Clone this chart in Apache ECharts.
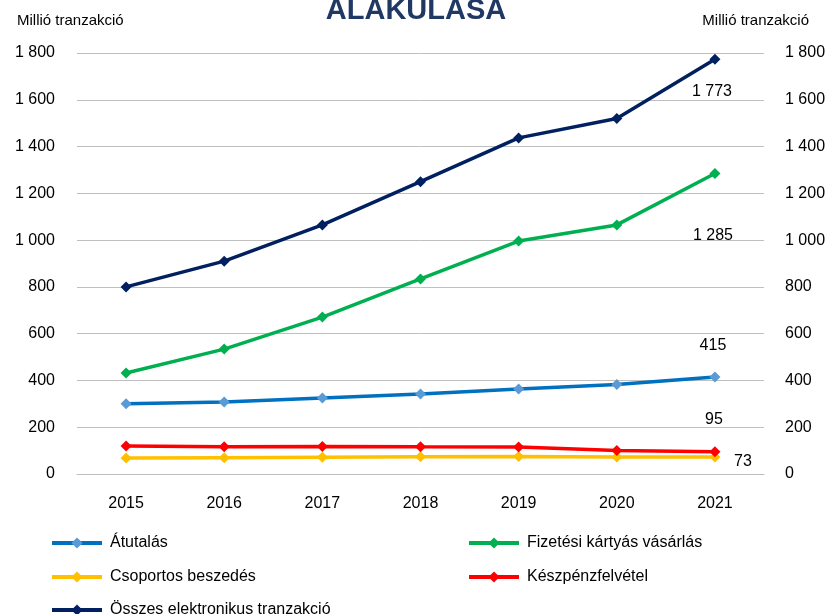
<!DOCTYPE html>
<html>
<head>
<meta charset="utf-8">
<script src="https://cdn.jsdelivr.net/npm/echarts@6/dist/echarts.min.js"></script>
<style>
    html, body { margin: 0; padding: 0; background: #fff; }
    #container { width: 832px; height: 614px; }
</style>
</head>
<body>
<div id="container"></div>
<script>
// adatok
var years = ['2015', '2016', '2017', '2018', '2019', '2020', '2021'];
var atutalas = [300, 308, 325, 342, 363, 383, 415];
var kartyas = [432, 534, 671, 834, 996, 1065, 1285];
var csoportos = [68, 70, 72, 74, 75, 73, 73];
var keszpenz = [120, 117, 118, 116, 115, 100, 95];
var osszes = [800, 910, 1065, 1250, 1437, 1520, 1773];

var seriesNames = ['Átutalás', 'Fizetési kártyás vásárlás', 'Csoportos beszedés', 'Készpénzfelvétel', 'Összes elektronikus tranzakció'];

var font = 'Liberation Sans';

function fmt(v) {
    return String(v).replace(/\B(?=(\d{3})+(?!\d))/g, ' ');
}

// csak az utolsó pont kap címkét
function withLastLabel(arr, offset) {
    return arr.map(function (v, i) {
        if (i !== arr.length - 1) return v;
        return {
            value: v,
            label: {
                show: true, position: 'inside', offset: offset,
                formatter: function (p) { return fmt(p.value); },
                color: '#000', fontSize: 16, fontFamily: font
            }
        };
    });
}

function lineSeries(name, data, color, markerColor, offset) {
    return {
        name: name,
        type: 'line',
        data: withLastLabel(data, offset),
        symbol: 'diamond',
        symbolSize: 11,
        lineStyle: { color: color, width: 3.5 },
        itemStyle: { color: markerColor || color },
        emphasis: { disabled: true }
    };
}

// egy jelmagyarázat-elem a megadott helyen
function legendItem(name, left, top) {
    return {
        left: left, top: top, padding: 0, itemWidth: 50, itemHeight: 14, itemGap: 0,
        data: [name],
        lineStyle: { width: 4 },
        textStyle: { fontSize: 16, color: '#000', fontFamily: font, padding: [0, 0, 0, 3] }
    };
}

var myChart = echarts.init(document.getElementById('container'));
var options = {
    animation: false,
    textStyle: { fontFamily: font },
    title: [
        { text: 'ALAKULÁSA', left: 'center', top: -9,
          textStyle: { color: '#1F3864', fontSize: 29, fontWeight: 'bold', fontFamily: font } },
        { text: 'Millió tranzakció', left: 12, top: 8,
          textStyle: { color: '#000', fontSize: 15, fontWeight: 'normal', fontFamily: font } },
        { text: 'Millió tranzakció', right: 18, top: 8,
          textStyle: { color: '#000', fontSize: 15, fontWeight: 'normal', fontFamily: font } }
    ],
    grid: { left: 77, right: 68, top: 53, bottom: 140 },
    legend: [
        legendItem(seriesNames[0], 50, 535),
        legendItem(seriesNames[1], 467, 535),
        legendItem(seriesNames[2], 50, 569),
        legendItem(seriesNames[3], 467, 569),
        legendItem(seriesNames[4], 50, 602)
    ],
    xAxis: {
        type: 'category',
        data: years,
        boundaryGap: true,
        axisLine: { lineStyle: { color: '#BFBFBF' } },
        axisTick: { show: false },
        axisLabel: { color: '#000', fontSize: 16, margin: 22, fontFamily: font }
    },
    yAxis: [
        { type: 'value', min: 0, max: 1800, interval: 200,
          axisLine: { show: false }, axisTick: { show: false },
          splitLine: { lineStyle: { color: '#BFBFBF', width: 1 } },
          axisLabel: { color: '#000', fontSize: 16, margin: 22, formatter: fmt, fontFamily: font } },
        { type: 'value', min: 0, max: 1800, interval: 200, position: 'right',
          axisLine: { show: false }, axisTick: { show: false },
          splitLine: { show: false },
          axisLabel: { color: '#000', fontSize: 16, margin: 21, formatter: fmt, fontFamily: font } }
    ],
    series: [
        lineSeries(seriesNames[0], atutalas, '#0070C0', '#5B9BD5', [-2, -31]),
        lineSeries(seriesNames[1], kartyas, '#00B050', null, [-2, 62]),
        lineSeries(seriesNames[2], csoportos, '#FFC000', null, [28, 5]),
        lineSeries(seriesNames[3], keszpenz, '#FF0000', null, [-1, -32]),
        lineSeries(seriesNames[4], osszes, '#002060', null, [-3, 32])
    ]
};
myChart.setOption(options, true);
</script>
</body>
</html>
